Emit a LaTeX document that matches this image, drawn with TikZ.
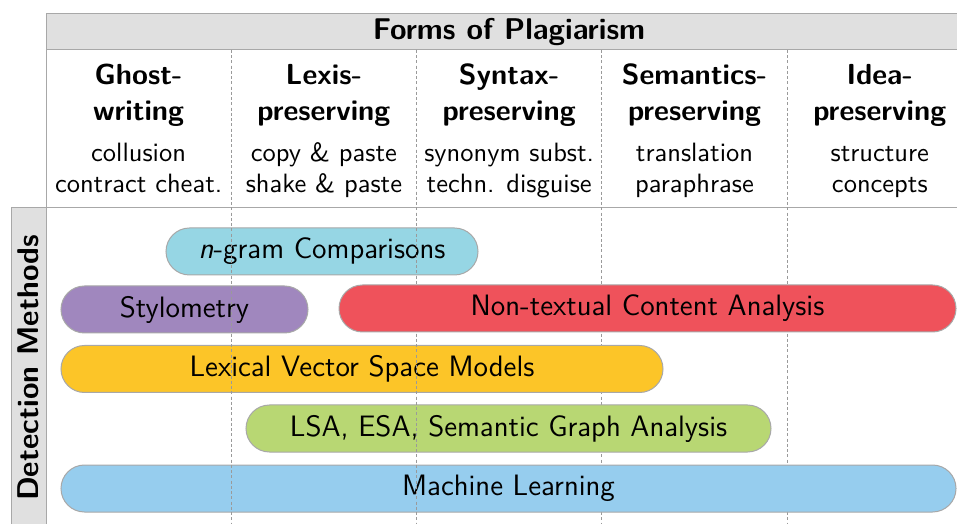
\documentclass[tikz,border=0pt]{standalone}
\usepackage{fontspec}
\definecolor{hdrgray}{HTML}{E0E0E0}
\definecolor{linegray}{HTML}{A8A8A8}
\definecolor{dashgray}{HTML}{9A9A9A}
\definecolor{cngram}{HTML}{96D6E4}
\definecolor{cstylo}{HTML}{A087BE}
\definecolor{cred}{HTML}{EF525B}
\definecolor{cyellow}{HTML}{FCC528}
\definecolor{cgreen}{HTML}{B8D773}
\definecolor{cblue}{HTML}{96CDEE}
\begin{document}
\begin{tikzpicture}[x=0.4pt,y=-0.4pt,font=\sffamily,
  frame/.style={draw=linegray,line width=0.4pt},
  sep/.style={draw=dashgray,line width=0.4pt,dash pattern=on 1.2pt off 0.9pt},
  bar/.style={draw=linegray,line width=0.4pt,minimum height=18.8pt,rounded corners=9.4pt,inner sep=0pt,font=\sffamily\fontsize{11.8}{14}\selectfont},
  title/.style={anchor=base,font=\sffamily\bfseries\fontsize{11.6}{13}\selectfont},
  sub/.style={anchor=base,font=\sffamily\fontsize{10.6}{13}\selectfont}]
\useasboundingbox (0,0) rectangle (957,524);
\begin{scope}
\clip (0,0) rectangle (957,524);
% header band
\fill[hdrgray] (46,14) rectangle (990,50);
\draw[frame] (46,14) -- (990,14);
\draw[frame] (46,50) -- (990,50);
\node[font=\sffamily\bfseries\fontsize{12}{14}\selectfont] (hdr) at (509,32) {Forms of Plagiarism};
% left band
\fill[hdrgray] (11,208) rectangle (46,540);
\draw[frame] (11,540) -- (11,208) -- (990,208);
\draw[frame] (46,14) -- (46,540);
\node[rotate=90,font=\sffamily\bfseries\fontsize{12}{14}\selectfont] (det) at (28.5,368) {Detection Methods};
% column separators
\foreach \i/\x in {1/231.3,2/416.6,3/601.9,4/787.2}{
  \coordinate (s\i t) at (\x,50);
  \coordinate (s\i b) at (\x,530);
  \draw[sep] (s\i t) -- (s\i b);
}
% column texts
\foreach \i/\x/\a/\b/\c/\d in {
  1/138.6/Ghost-/writing/collusion/contract cheat.,
  2/323.9/Lexis-/preserving/copy \& paste/shake \& paste,
  3/509.2/Syntax-/preserving/synonym subst./techn. disguise,
  4/694.5/Semantics-/preserving/translation/paraphrase,
  5/879.8/Idea-/preserving/structure/concepts}{
  \node[title] (ta\i) at (\x,85) {\a};
  \node[title] (tb\i) at (\x,120.7) {\b};
  \node[sub] (sa\i) at (\x,162) {\c};
  \node[sub] (sb\i) at (\x,193) {\d};
}
% bars
\node[bar,fill=cngram,minimum width=124.8pt] (ngram) at (322,251.5) {\textit{n}-gram Comparisons};
\node[bar,fill=cstylo,minimum width=98.8pt] (stylo) at (184.5,309.5) {Stylometry};
\node[bar,fill=cyellow,minimum width=240.8pt] (lvsm) at (362,369) {Lexical Vector Space Models};
\node[bar,fill=cgreen,minimum width=210pt] (lsa) at (508.5,428.5) {LSA, ESA, Semantic Graph Analysis};
\node[bar,fill=cblue,minimum width=358pt] (ml) at (508.5,488.5) {Machine Learning};
% first two separators shown over bars
\draw[sep] (s1t) -- (s1b);
\draw[sep] (s2t) -- (s2b);
\node[bar,fill=cred,minimum width=246.8pt] (ntca) at (647.5,308.5) {Non-textual Content Analysis};
\end{scope}
\end{tikzpicture}
\end{document}
